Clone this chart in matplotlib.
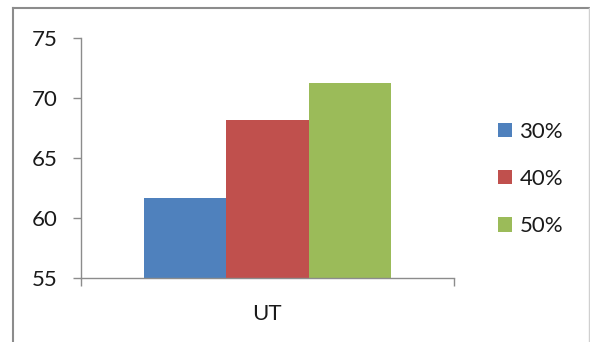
import matplotlib.pyplot as plt
from matplotlib.patches import Patch
from matplotlib.lines import Line2D

# Veriler
kategori = 'UT'
seriler = ['30%', '40%', '50%']
degerler = [61.64, 68.17, 71.28]
renkler = ['#4F81BD', '#C0504D', '#9BBB59']

plt.rcParams['font.family'] = ['Lato', 'DejaVu Sans']

fig = plt.figure(figsize=(5.9, 3.42), dpi=100)
ax = fig.add_axes([81/590, 1 - 278/342, (453.7 - 81)/590, 240/342])

konumlar = [-1, 0, 1]
for x, v, r, s in zip(konumlar, degerler, renkler, seriler):
    ax.bar(x, v - 55, bottom=55, width=1.0, color=r, label=s)

ax.set_ylim(55, 75)
ax.set_yticks([55, 60, 65, 70, 75])
ax.set_xlim(-2.263, 2.263)
ax.set_xticks([0])
ax.set_xticklabels([kategori])
ax.set_xticks([-2.263, 2.263], minor=True)
ax.tick_params(axis='x', which='major', length=0, pad=19, labelsize=16, colors='#1a1a1a')
ax.tick_params(axis='x', which='minor', length=6, color='#8c8c8c', width=1)
ax.tick_params(axis='y', length=6, color='#8c8c8c', width=1, pad=11, labelsize=16, labelcolor='#1a1a1a')

for k in ['top', 'right']:
    ax.spines[k].set_visible(False)
for k in ['left', 'bottom']:
    ax.spines[k].set_color('#8c8c8c')
    ax.spines[k].set_linewidth(1)

# legend
tutamaclar = [Patch(facecolor=r, edgecolor='none') for r in renkler]
fig.legend(tutamaclar, seriler, loc='center left', bbox_to_anchor=(478/590, 1 - 179/342),
           frameon=False, fontsize=16, handlelength=0.63, handleheight=0.63,
           handletextpad=0.33, labelspacing=1.22, labelcolor='#1a1a1a')

# dış çerçeve
cerceve = dict(color='#8c8c8c', linewidth=1.5, transform=fig.transFigure, clip_on=False)
fig.add_artist(Line2D([13/590, 13/590], [0, 1 - 8/342], **cerceve))
fig.add_artist(Line2D([13/590, 589/590], [1 - 8/342, 1 - 8/342], **cerceve))
fig.add_artist(Line2D([589/590, 589/590], [0, 1 - 8/342], color='#d0d0d0', linewidth=1.0,
                      transform=fig.transFigure))

fig.savefig('out.png', dpi=100)
